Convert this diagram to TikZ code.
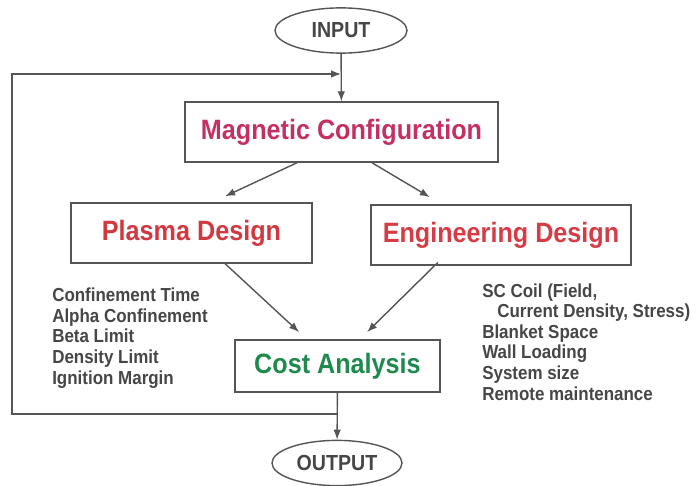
\documentclass[tikz,border=0pt]{standalone}
\usepackage{fontspec}
\setmainfont[FakeStretch=0.9]{Liberation Sans}
\usetikzlibrary{arrows.meta,shapes.geometric}

\definecolor{linegray}{RGB}{85,85,85}
\definecolor{textgray}{RGB}{70,70,70}
\definecolor{magred}{RGB}{196,48,100}
\definecolor{plasmared}{RGB}{210,56,64}
\definecolor{engred}{RGB}{214,60,70}
\definecolor{costgreen}{RGB}{30,138,78}

\begin{document}
\begin{tikzpicture}[x=0.025cm, y=-0.025cm,
        block/.style = {draw=linegray, line width=1pt, minimum height=1.5cm, inner sep=2pt, font=\fontsize{19.9}{24}\selectfont\bfseries},
        terminal/.style = {draw=linegray, line width=1pt, ellipse, minimum width=3.3cm, minimum height=1.13cm, inner sep=0pt, text=textgray, font=\fontsize{15.5}{18}\selectfont\bfseries},
        notes/.style = {align=left, inner sep=0pt, anchor=base west, text=textgray, font=\fontsize{13.4}{14.6}\selectfont\bfseries},
        arrow/.style = {draw=linegray, line width=1pt, -{Latex[length=2.5mm,width=1.9mm]}}
        ]
        \useasboundingbox (0,0) rectangle (697,486);

        \node[terminal] (input) at (341,30.5) {INPUT};
        \node[block, minimum width=7.83cm, text=magred] (mag) at (341.5,132) {Magnetic Configuration};
        \node[block, minimum width=6.03cm, text=plasmared] (plasma) at (191.5,233) {Plasma Design};
        \node[block, minimum width=6.5cm, text=engred] (eng) at (501,235) {Engineering Design};
        \node[block, minimum width=5.13cm, minimum height=1.3cm, text=costgreen] (cost) at (337.5,366) {Cost Analysis};
        \node[terminal, minimum width=3.25cm] (output) at (337,463) {OUTPUT};

        % base anchor sits on the last line
        \node[notes] (plasmanotes) at (52,384) {Confinement Time\\Alpha Confinement\\Beta Limit\\Density Limit\\Ignition Margin};
        \node[notes] (engnotes) at (482,400) {SC Coil (Field,\\\hspace*{10.7pt}Current Density, Stress)\\Blanket Space\\Wall Loading\\System size\\Remote maintenance};

        \draw[arrow] (input) -- (mag);
        \draw[arrow] ([xshift=-1.11cm]mag.south) -- ([xshift=0.84cm,yshift=0.15cm]plasma.north);
        \draw[arrow] ([xshift=0.76cm]mag.south) -- ([xshift=-1.78cm,yshift=0.18cm]eng.north);
        \draw[arrow] ([xshift=0.84cm]plasma.south) -- ([xshift=-0.96cm,yshift=0.18cm]cost.north);
        \draw[arrow] ([xshift=-1.58cm,yshift=0.08cm]eng.south) -- ([xshift=0.74cm,yshift=0.18cm]cost.north);
        \draw[arrow] (cost) -- (output);

        % loop back from the cost result to the top
        \coordinate (fbout) at (cost.south |- 0,414);
        \coordinate (fbin) at (input.south |- 0,74);
        \draw[arrow] (fbout) -- (12,414) -- (12,74) -- (fbin);
    \end{tikzpicture}
\end{document}
